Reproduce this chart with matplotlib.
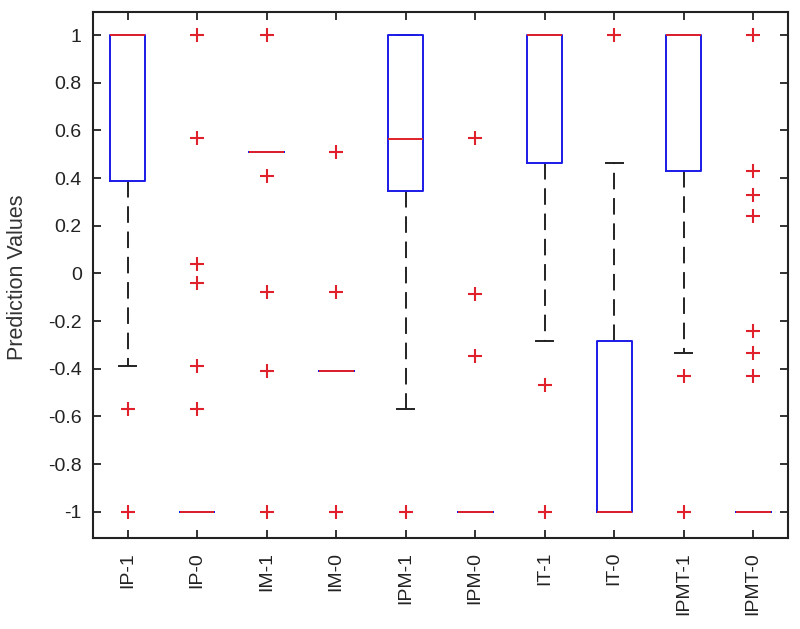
import matplotlib
matplotlib.use("Agg")
import matplotlib.pyplot as plt

plt.rcParams['font.family'] = ['Liberation Sans', 'DejaVu Sans']

labels = ['IP-1', 'IP-0', 'IM-1', 'IM-0', 'IPM-1', 'IPM-0', 'IT-1', 'IT-0', 'IPMT-1', 'IPMT-0']
q1 = [0.387, -1.0, 0.51, -0.41, 0.345, -1.0, 0.464, -1.0, 0.43, -1.0]
med = [1.0, -1.0, 0.51, -0.41, 0.566, -1.0, 1.0, -1.0, 1.0, -1.0]
q3 = [1.0, -1.0, 0.51, -0.41, 1.0, -1.0, 1.0, -0.285, 1.0, -1.0]
wlo = [-0.39, -1.0, 0.51, -0.41, -0.567, -1.0, -0.285, -1.0, -0.332, -1.0]
whi = [1.0, -1.0, 0.51, -0.41, 1.0, -1.0, 1.0, 0.464, 1.0, -1.0]
outliers = [
    [-0.57, -1.0],
    [1.0, 0.57, 0.04, -0.04, -0.39, -0.57],
    [1.0, 0.41, -0.08, -0.41, -1.0],
    [0.51, -0.08, -1.0],
    [-1.0],
    [0.567, -0.087, -0.347],
    [-0.469, -1.0],
    [1.0],
    [-0.431, -1.0],
    [1.0, 0.43, 0.329, 0.24, -0.242, -0.333, -0.431],
]

stats = []
for i in range(len(labels)):
    stats.append(dict(label=labels[i], q1=q1[i], med=med[i], q3=q3[i],
                      whislo=wlo[i], whishi=whi[i], fliers=outliers[i]))

fig = plt.figure(figsize=(8, 6.29), dpi=100)
ax = fig.add_axes([0.116, 0.1447, 0.869, 0.8363])

ax.bxp(stats, positions=range(1, 11), widths=0.5,
       boxprops=dict(color='#1a1ae6', linewidth=1.4, zorder=2),
       medianprops=dict(color='#e0202a', linewidth=1.4, zorder=4),
       whiskerprops=dict(color='#222222', linewidth=1.4, linestyle=(0, (8.5, 4.5)), zorder=1),
       capprops=dict(color='#222222', linewidth=1.4, zorder=1),
       flierprops=dict(marker='+', markeredgecolor='#e0202a', markersize=10,
                       markeredgewidth=1.5, linestyle='none'),
       capwidths=0.25)

ax.set_xlim(0.5, 10.5)
ax.set_ylim(-1.11, 1.097)
ax.set_yticks([-1, -0.8, -0.6, -0.4, -0.2, 0, 0.2, 0.4, 0.6, 0.8, 1])
ax.set_yticklabels(['-1', '-0.8', '-0.6', '-0.4', '-0.2', '0', '0.2', '0.4', '0.6', '0.8', '1'])
ax.set_xticks(range(1, 11))
ax.set_xticklabels(labels, rotation=90)

ax.tick_params(direction='in', length=6, width=1.3, colors='#222222',
               labelsize=14, top=True, right=True)
ax.tick_params(axis='y', pad=8)
ax.tick_params(axis='x', pad=10)
for s in ax.spines.values():
    s.set_linewidth(1.5)
    s.set_color('#222222')

ax.set_ylabel('Prediction Values', fontsize=15.5, color='#333333')
ax.yaxis.set_label_coords(-0.093, 0.496)

fig.savefig('out.png', dpi=100)
